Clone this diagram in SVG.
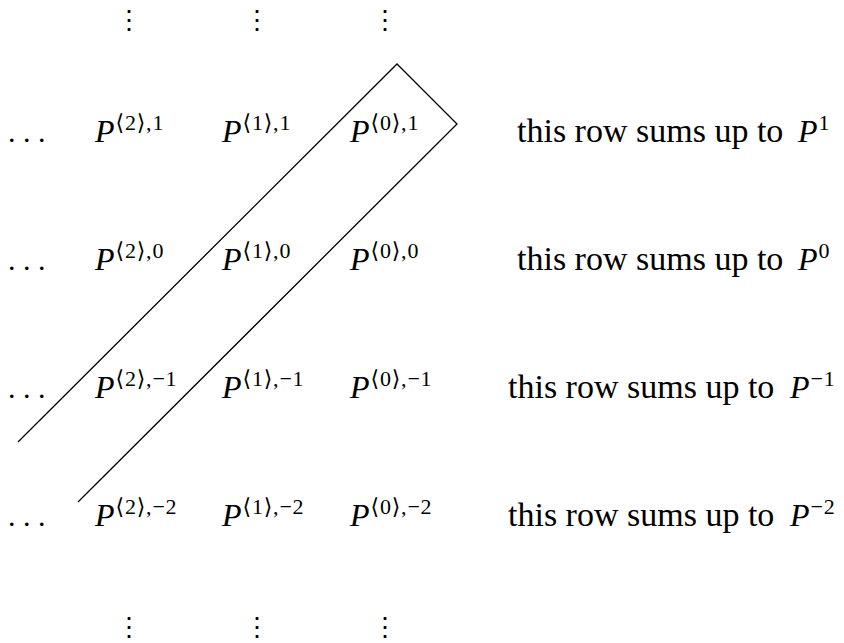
<svg xmlns="http://www.w3.org/2000/svg" width="844" height="643" viewBox="0 0 844 643">
<style>
.m { font-family: "Liberation Serif", "DejaVu Serif", serif; font-size: 32px; fill: #000; }
.t { font-size: 34px; }
.d { font-size: 30px; }
.i { font-style: italic; }
.s { font-size: 22px; font-style: normal; letter-spacing: 0.8px; }
.v { font-family: "DejaVu Serif", serif; font-size: 26px; fill: #000; text-anchor: middle; }
.ln { fill: none; stroke: #000; stroke-width: 1.3; }
</style>
<rect width="844" height="643" fill="#fff"/>
<g id="vdots-top">
<text class="v" x="129" y="29">⋮</text>
<text class="v" x="257" y="29">⋮</text>
<text class="v" x="385" y="29">⋮</text>
</g>
<g id="vdots-bottom">
<text class="v" x="129" y="636">⋮</text>
<text class="v" x="257" y="636">⋮</text>
<text class="v" x="385" y="636">⋮</text>
</g>
<g id="row1">
<text class="m d" x="8" y="142">. . .</text>
<text class="m" x="95" y="142"><tspan class="i">P</tspan><tspan class="s" dx="1" dy="-12">⟨2⟩,1</tspan></text>
<text class="m" x="222" y="142"><tspan class="i">P</tspan><tspan class="s" dx="1" dy="-12">⟨1⟩,1</tspan></text>
<text class="m" x="350" y="142"><tspan class="i">P</tspan><tspan class="s" dx="1" dy="-12">⟨0⟩,1</tspan></text>
<text class="m" x="517" y="142"><tspan class="t">this row sums up to</tspan><tspan class="i" x="798">P</tspan><tspan class="s" dx="1" dy="-12">1</tspan></text>
</g>
<g id="row0">
<text class="m d" x="8" y="270">. . .</text>
<text class="m" x="95" y="270"><tspan class="i">P</tspan><tspan class="s" dx="1" dy="-12">⟨2⟩,0</tspan></text>
<text class="m" x="222" y="270"><tspan class="i">P</tspan><tspan class="s" dx="1" dy="-12">⟨1⟩,0</tspan></text>
<text class="m" x="350" y="270"><tspan class="i">P</tspan><tspan class="s" dx="1" dy="-12">⟨0⟩,0</tspan></text>
<text class="m" x="517" y="270"><tspan class="t">this row sums up to</tspan><tspan class="i" x="798">P</tspan><tspan class="s" dx="1" dy="-12">0</tspan></text>
</g>
<g id="row-1">
<text class="m d" x="8" y="398">. . .</text>
<text class="m" x="95" y="398"><tspan class="i">P</tspan><tspan class="s" dx="1" dy="-12">⟨2⟩,−1</tspan></text>
<text class="m" x="222" y="398"><tspan class="i">P</tspan><tspan class="s" dx="1" dy="-12">⟨1⟩,−1</tspan></text>
<text class="m" x="350" y="398"><tspan class="i">P</tspan><tspan class="s" dx="1" dy="-12">⟨0⟩,−1</tspan></text>
<text class="m" x="508" y="398"><tspan class="t">this row sums up to</tspan><tspan class="i" x="790">P</tspan><tspan class="s" dx="1" dy="-12">−1</tspan></text>
</g>
<g id="row-2">
<text class="m d" x="8" y="526">. . .</text>
<text class="m" x="95" y="526"><tspan class="i">P</tspan><tspan class="s" dx="1" dy="-12">⟨2⟩,−2</tspan></text>
<text class="m" x="222" y="526"><tspan class="i">P</tspan><tspan class="s" dx="1" dy="-12">⟨1⟩,−2</tspan></text>
<text class="m" x="350" y="526"><tspan class="i">P</tspan><tspan class="s" dx="1" dy="-12">⟨0⟩,−2</tspan></text>
<text class="m" x="508" y="526"><tspan class="t">this row sums up to</tspan><tspan class="i" x="790">P</tspan><tspan class="s" dx="1" dy="-12">−2</tspan></text>
</g>
<g id="connectors">
<path class="ln" d="M18,442 L397,64 L457,124 L78,502"/>
</g>
</svg>
